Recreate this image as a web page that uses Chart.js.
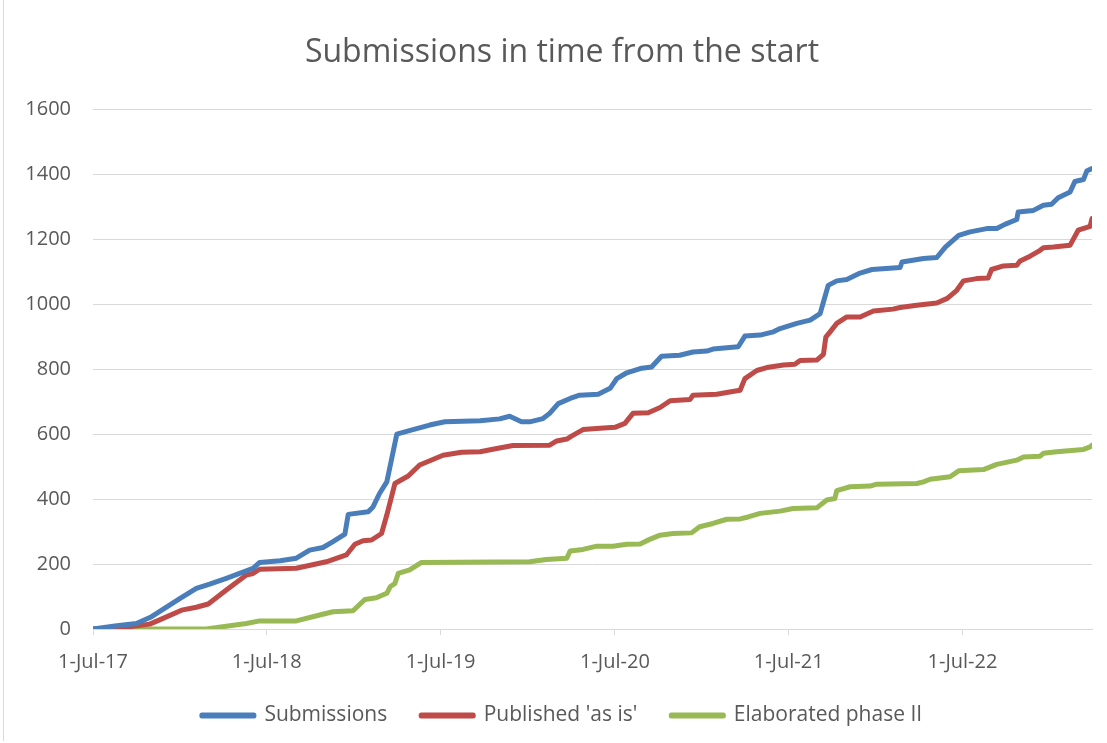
<!DOCTYPE html>
<html>
<head>
<meta charset="utf-8">
<script src="https://cdn.jsdelivr.net/npm/chart.js@4.4.1/dist/chart.umd.min.js"></script>
<style>
  html, body { margin: 0; padding: 0; background: #fff; }
  #wrap { width: 1107px; height: 743px; position: relative; }
</style>
</head>
<body>
<div id="wrap"><canvas id="submissionsChart"></canvas></div>
<script>
const tickDates = ['2017-07-01', '2018-07-01', '2019-07-01', '2020-07-01', '2021-07-01', '2022-07-01'];
const tickLabels = ['1-Jul-17', '1-Jul-18', '1-Jul-19', '1-Jul-20', '1-Jul-21', '1-Jul-22'];
const axisStart = '2017-07-01';
const axisEnd = '2023-03-30';

const subDates = [
  '2017-07-01', '2017-08-16', '2017-09-30', '2017-11-01', '2017-12-31', '2018-02-03', '2018-03-03', '2018-04-07',
  '2018-05-19', '2018-06-02', '2018-06-16', '2018-07-29', '2018-09-01', '2018-09-29', '2018-10-27', '2018-11-17',
  '2018-12-12', '2018-12-19', '2019-01-30', '2019-02-09', '2019-02-23', '2019-03-10', '2019-03-31', '2019-05-04',
  '2019-06-08', '2019-07-10', '2019-09-22', '2019-11-02', '2019-11-23', '2019-12-18', '2020-01-04', '2020-02-01',
  '2020-02-15', '2020-03-04', '2020-03-29', '2020-04-18', '2020-05-27', '2020-06-21', '2020-07-05', '2020-07-26',
  '2020-08-23', '2020-09-16', '2020-10-07', '2020-11-14', '2020-12-12', '2021-01-10', '2021-01-23', '2021-03-17',
  '2021-03-31', '2021-05-02', '2021-05-30', '2021-06-13', '2021-07-18', '2021-08-15', '2021-09-05', '2021-09-12',
  '2021-09-22', '2021-10-10', '2021-10-31', '2021-11-28', '2021-12-23', '2022-02-20', '2022-02-24', '2022-04-10',
  '2022-05-08', '2022-05-26', '2022-06-23', '2022-07-17', '2022-08-21', '2022-09-11', '2022-09-28', '2022-10-23',
  '2022-10-26', '2022-11-27', '2022-12-18', '2023-01-04', '2023-01-18', '2023-02-12', '2023-02-22', '2023-03-12',
  '2023-03-19', '2023-03-30'
];
const subValues = [
  0, 9, 17, 38, 94, 125, 138, 156,
  179, 187, 205, 210, 218, 243, 251, 269,
  292, 353, 361, 376, 418, 453, 600, 614,
  628, 638, 641, 647, 655, 638, 638, 648,
  664, 694, 710, 720, 723, 741, 771, 789,
  802, 807, 840, 843, 853, 856, 862, 869,
  902, 905, 915, 925, 941, 951, 971, 1007,
  1058, 1072, 1076, 1096, 1107, 1113, 1130, 1141,
  1144, 1176, 1212, 1223, 1233, 1233, 1246, 1261,
  1284, 1289, 1305, 1308, 1328, 1346, 1378, 1384,
  1410, 1418
];

const pubDates = [
  '2017-07-01', '2017-09-16', '2017-10-28', '2017-11-18', '2018-01-03', '2018-02-03', '2018-02-28', '2018-04-07',
  '2018-05-19', '2018-06-02', '2018-06-16', '2018-09-01', '2018-11-03', '2018-12-15', '2019-01-02', '2019-01-19',
  '2019-02-06', '2019-02-27', '2019-03-10', '2019-03-27', '2019-04-24', '2019-05-18', '2019-07-06', '2019-08-14',
  '2019-09-22', '2019-10-27', '2019-11-30', '2020-02-15', '2020-03-01', '2020-03-22', '2020-04-01', '2020-04-25',
  '2020-05-31', '2020-07-01', '2020-07-22', '2020-08-08', '2020-09-09', '2020-10-04', '2020-10-25', '2020-12-06',
  '2020-12-12', '2021-01-31', '2021-02-27', '2021-03-21', '2021-03-31', '2021-04-25', '2021-05-16', '2021-06-20',
  '2021-07-14', '2021-07-25', '2021-08-29', '2021-09-12', '2021-09-17', '2021-09-26', '2021-10-10', '2021-10-31',
  '2021-11-28', '2021-12-26', '2022-02-05', '2022-02-20', '2022-03-27', '2022-05-08', '2022-05-30', '2022-06-19',
  '2022-07-03', '2022-07-31', '2022-08-24', '2022-08-31', '2022-09-25', '2022-10-23', '2022-10-30', '2022-11-20',
  '2022-12-11', '2022-12-18', '2023-01-08', '2023-02-12', '2023-03-01', '2023-03-26', '2023-03-30'
];
const pubValues = [
  0, 7, 15, 28, 58, 67, 77, 120,
  166, 171, 184, 187, 207, 228, 261, 272,
  274, 294, 351, 448, 471, 505, 535, 544,
  546, 556, 565, 566, 579, 585, 594, 614,
  618, 621, 633, 664, 666, 682, 703, 707,
  720, 723, 730, 735, 771, 796, 805, 813,
  815, 827, 828, 846, 899, 915, 941, 961,
  961, 979, 985, 990, 997, 1004, 1018, 1043,
  1072, 1079, 1081, 1107, 1118, 1120, 1133, 1148,
  1166, 1174, 1176, 1182, 1228, 1240, 1264
];

const elabDates = [
  '2017-07-01', '2018-02-24', '2018-05-19', '2018-06-16', '2018-09-01', '2018-10-20', '2018-11-17', '2018-12-29',
  '2019-01-23', '2019-02-16', '2019-03-10', '2019-03-17', '2019-03-27', '2019-04-03', '2019-04-27', '2019-05-22',
  '2020-01-04', '2020-02-08', '2020-03-22', '2020-03-29', '2020-04-25', '2020-05-24', '2020-06-27', '2020-07-26',
  '2020-08-23', '2020-09-12', '2020-10-04', '2020-10-31', '2020-12-09', '2020-12-26', '2021-01-23', '2021-02-21',
  '2021-03-21', '2021-04-07', '2021-05-02', '2021-06-13', '2021-07-10', '2021-08-29', '2021-09-19', '2021-10-06',
  '2021-10-10', '2021-11-07', '2021-12-19', '2022-01-02', '2022-03-27', '2022-04-10', '2022-04-24', '2022-06-05',
  '2022-06-23', '2022-08-14', '2022-09-11', '2022-10-23', '2022-11-06', '2022-12-11', '2022-12-18', '2023-01-15',
  '2023-03-12', '2023-03-26', '2023-03-30'
];
const elabValues = [
  0, 0, 17, 25, 25, 43, 53, 56,
  91, 96, 110, 130, 140, 171, 182, 205,
  207, 214, 218, 240, 245, 255, 255, 261,
  262, 276, 289, 294, 296, 315, 325, 338,
  339, 345, 356, 363, 371, 373, 397, 402,
  426, 438, 440, 446, 448, 453, 461, 469,
  487, 491, 507, 520, 530, 532, 541, 546,
  553, 561, 566
];

const FONT = "'Open Sans', 'Noto Sans', sans-serif";
const TEXT = '#595959';
const GRID = '#d9d9d9';

function toTime(s) {
  const [y, m, d] = s.split('-').map(Number);
  return Date.UTC(y, m - 1, d);
}

function points(dates, values) {
  return dates.map((d, i) => ({ x: toTime(d), y: values[i] }));
}

function lineSet(label, dates, values, color) {
  return {
    label,
    data: points(dates, values),
    borderColor: color,
    backgroundColor: color,
    borderWidth: 5,
    borderJoinStyle: 'round',
    borderCapStyle: 'round',
    pointRadius: 0,
    pointHoverRadius: 0,
    tension: 0,
    fill: false,
  };
}

// thin grey frame line on the left, like the cropped Excel chart border
const frameLine = {
  id: 'frameLine',
  beforeDraw(chart) {
    const ctx = chart.ctx;
    ctx.save();
    ctx.strokeStyle = GRID;
    ctx.lineWidth = 1;
    ctx.beginPath();
    ctx.moveTo(3.5, 0);
    ctx.lineTo(3.5, 741);
    ctx.stroke();
    ctx.restore();
  },
};

const ctx = document.getElementById('submissionsChart').getContext('2d');
new Chart(ctx, {
  type: 'line',
  data: {
    datasets: [
      lineSet('Submissions', subDates, subValues, '#4a7ebb'),
      lineSet("Published 'as is'", pubDates, pubValues, '#be4b48'),
      lineSet('Elaborated phase II', elabDates, elabValues, '#98b954'),
    ],
  },
  options: {
    responsive: true,
    maintainAspectRatio: false,
    animation: false,
    layout: { padding: { left: 32, right: 15, top: 0, bottom: 7 } },
    plugins: {
      title: {
        display: true,
        text: 'Submissions in time from the start',
        color: TEXT,
        font: { family: FONT, size: 32, weight: 'normal' },
        padding: { top: 34, bottom: 37 },
      },
      legend: {
        position: 'bottom',
        labels: {
          color: TEXT,
          font: { family: FONT, size: 21 },
          boxWidth: 52,
          boxHeight: 1,
          padding: 34,
        },
      },
      tooltip: { enabled: false },
    },
    scales: {
      x: {
        type: 'linear',
        min: toTime(axisStart),
        max: toTime(axisEnd),
        afterBuildTicks: (scale) => {
          scale.ticks = tickDates.map(d => ({ value: toTime(d) }));
        },
        afterFit: (scale) => {
          scale.height = 42;
          scale._computeLabelArea = () => undefined;
        },
        grid: { drawOnChartArea: false, drawTicks: true, tickLength: 6, color: GRID },
        border: { display: true, color: GRID, width: 1 },
        ticks: {
          autoSkip: false,
          maxRotation: 0,
          padding: 15,
          color: TEXT,
          font: { family: FONT, size: 20 },
          callback: (value, index) => tickLabels[index],
        },
      },
      y: {
        min: 0,
        max: 1600,
        afterFit: (scale) => {
          scale.width = 61;
          // labels reach left of the narrowed axis box, so do not clip them
          scale._computeLabelArea = () => undefined;
        },
        grid: { color: GRID, drawTicks: false },
        border: { display: false },
        ticks: {
          stepSize: 200,
          padding: 22,
          color: TEXT,
          font: { family: FONT, size: 20 },
          callback: (value) => String(value),
        },
      },
    },
  },
  plugins: [frameLine],
});
</script>
</body>
</html>
